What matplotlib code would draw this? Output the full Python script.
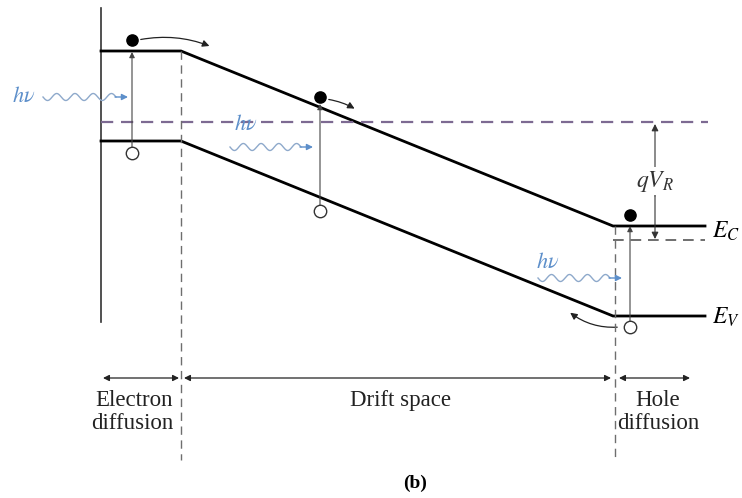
"""
Band diagram of a reverse-biased p-i-n photodiode (panel b).
Coordinates are in image pixels, y grows downward.
"""

import matplotlib.pyplot as plt
import numpy as np
from matplotlib.patches import FancyArrowPatch

plt.rcParams["font.family"] = ["Liberation Serif", "DejaVu Serif"]
plt.rcParams["mathtext.fontset"] = "stix"

# band edges: x breakpoints, conduction / valence band levels
BAND_X = [101, 181, 613, 705]
EC_Y = [51, 51, 226, 226]
EV_Y = [141, 141, 316, 316]

# quasi-Fermi levels (dashed)
EF_LEFT = 122
EF_LEFT_X = [101, 708]
EF_RIGHT = 240
EF_RIGHT_X = [613, 705]

# region boundaries and labels
BOUNDARY_X = [181, 615]
REGION_SPANS = [(103, 179), (184, 611), (619, 690)]
REGION_LABELS = ["Electron\ndiffusion", "Drift space", "Hole\ndiffusion"]
REGION_LABEL_X = [173, 400, 658]
REGION_LABEL_HA = ["right", "center", "center"]

# photo-generated pairs: x, electron y, hole y
PAIR_X = [132, 320, 630]
ELECTRON_Y = [40, 97, 215]
HOLE_Y = [153, 211, 327]
TOP_Y = [52, 104, 226]

# incoming photons: wave start x, wave end x, y, label position
PHOTON_X0 = [43, 230, 538]
PHOTON_X1 = [128, 313, 622]
PHOTON_Y = [97, 147, 278]
PHOTON_LABEL = [(24, 97), (246, 125), (548, 263)]

BLUE = "#5d8fca"
WAVE = "#8ea9cb"
PURPLE = "#7d6a92"
GRAY = "#6e6e6e"


def wave(ax, x0, x1, y, color):
    xs = np.linspace(x0, x1 - 12, 200)
    ys = y + 3.5 * np.sin((xs - x0) / (x1 - 12 - x0) * 2 * np.pi * 4)
    ax.plot(xs, ys, color=color, lw=1.0)
    ax.annotate("", xy=(x1, y), xytext=(x1 - 13, y),
                arrowprops=dict(arrowstyle="-|>", color=BLUE, lw=1.0,
                                mutation_scale=9, shrinkA=0, shrinkB=0))


def main():
    fig = plt.figure(figsize=(7.42, 4.98), dpi=100)
    ax = fig.add_axes([0, 0, 1, 1])
    ax.set_xlim(0, 742)
    ax.set_ylim(498, 0)
    ax.axis("off")

    # left wall
    ax.plot([101, 101], [8, 322], color="#333333", lw=1.2)

    # bands
    ax.plot(BAND_X, EC_Y, color="black", lw=2.0, solid_joinstyle="miter")
    ax.plot(BAND_X, EV_Y, color="black", lw=2.0, solid_joinstyle="miter")

    # Fermi levels
    ax.plot(EF_LEFT_X, [EF_LEFT, EF_LEFT], color=PURPLE, lw=1.6,
            dashes=(5.5, 3.5))
    ax.plot(EF_RIGHT_X, [EF_RIGHT, EF_RIGHT], color=GRAY, lw=1.4,
            dashes=(5.5, 3.5))

    # region boundaries
    ax.plot([BOUNDARY_X[0]] * 2, [EC_Y[1], 460], color=GRAY, lw=1.0,
            dashes=(6, 4))
    ax.plot([BOUNDARY_X[1]] * 2, [EC_Y[2], 460], color=GRAY, lw=1.0,
            dashes=(6, 4))

    # qV_R arrow
    ax.annotate("", xy=(655, EF_LEFT + 2), xytext=(655, 196),
                arrowprops=dict(arrowstyle="-|>", color="#333333", lw=0.8,
                                mutation_scale=10, shrinkA=0, shrinkB=0))
    ax.annotate("", xy=(655, EF_RIGHT - 1), xytext=(655, 196),
                arrowprops=dict(arrowstyle="-|>", color="#333333", lw=0.8,
                                mutation_scale=10, shrinkA=0, shrinkB=0))
    ax.text(655, 181, r"$qV_R$", fontsize=17, ha="center", va="center",
            color="#333333",
            bbox=dict(facecolor="white", edgecolor="none", pad=1))
    ax.text(712, 231, r"$E_C$", fontsize=17, ha="left", va="center")
    ax.text(712, 317, r"$E_V$", fontsize=17, ha="left", va="center")

    # transitions, electrons, holes
    for x, ye, yh, yt in zip(PAIR_X, ELECTRON_Y, HOLE_Y, TOP_Y):
        ax.annotate("", xy=(x, yt), xytext=(x, yh - 6),
                    arrowprops=dict(arrowstyle="-|>", color="#444444", lw=0.8,
                                    mutation_scale=8, shrinkA=0, shrinkB=0))
    ax.scatter(PAIR_X, ELECTRON_Y, s=65, color="black", zorder=5)
    ax.scatter(PAIR_X, HOLE_Y, s=80, facecolor="white", edgecolor="#333333",
               lw=1.0, zorder=5)

    # carrier motion
    for start, end, rad in [((138, 40), (212, 47), -0.15),
                            ((326, 99), (357, 110), -0.1),
                            ((620, 327), (568, 311), -0.2)]:
        ax.add_patch(FancyArrowPatch(start, end, connectionstyle=f"arc3,rad={rad}",
                                     arrowstyle="-|>", mutation_scale=10,
                                     color="#222222", lw=0.9))

    # photons
    for x0, x1, y, (lx, ly) in zip(PHOTON_X0, PHOTON_X1, PHOTON_Y, PHOTON_LABEL):
        wave(ax, x0, x1, y, WAVE)
        ax.text(lx, ly, r"$h\nu$", fontsize=16, color=BLUE, ha="center",
                va="center")

    # region spans
    for (a, b), label, lx, ha in zip(REGION_SPANS, REGION_LABELS,
                                     REGION_LABEL_X, REGION_LABEL_HA):
        ax.annotate("", xy=(a, 378), xytext=(b, 378),
                    arrowprops=dict(arrowstyle="<|-|>", color="#222222", lw=0.9,
                                    mutation_scale=9, shrinkA=0, shrinkB=0))
        ax.text(lx, 390, label, fontsize=16.5, ha=ha, va="top",
                linespacing=1.15, color="#222222")

    ax.text(415, 483, "(b)", fontsize=14, fontweight="bold", ha="center",
            va="center")

    fig.savefig("out.png", dpi=100)


if __name__ == "__main__":
    main()
